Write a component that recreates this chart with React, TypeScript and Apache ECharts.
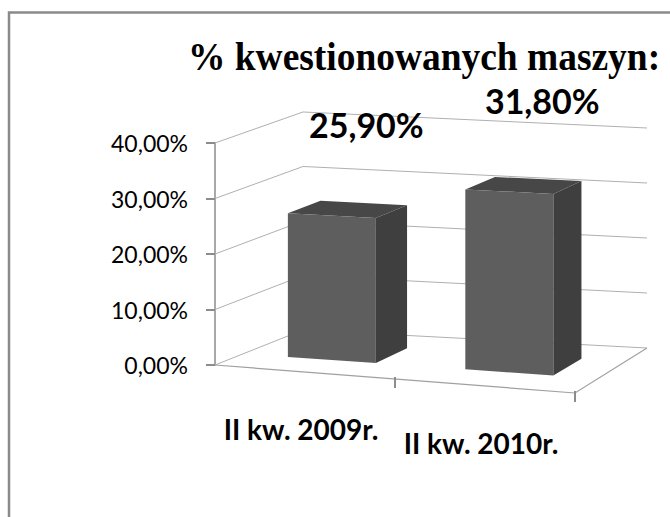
import React, { useEffect, useRef } from 'react';
import * as echarts from 'echarts';

const chartTitle = '% kwestionowanych maszyn:';
const categories = ['II kw. 2009r.', 'II kw. 2010r.'];
const values = [0.259, 0.318];
const yTicks = [0, 0.1, 0.2, 0.3, 0.4];

const fmtPct = (v: number) => (v * 100).toFixed(2).replace('.', ',') + '%';

// ---- layout / perspective constants (styles, not data) ----
const GRID = { left: 215, top: 143, width: 360, height: 222 };
const FRONT_DROP = 28;
const DEPTH_L = [88, -35];
const DEPTH_R = [72, -45];
const SC = { fl: 1, fr: 1.054, bl: 0.982, br: 0.991 };
const W0 = 0.32;
const W1 = 0.7;
const BAR_FRAC = 0.496;
const LABEL_OFF = [18.5, -84.5];
const CAT_OFF = [-4, 57];

function project(gx: number, gw: number, gb: number, s: number, w: number, h: number) {
  const flx = gx, fly = gb;
  const frx = gx + gw, fry = gb + FRONT_DROP;
  const blx = flx + DEPTH_L[0], bly = fly + DEPTH_L[1];
  const brx = frx + DEPTH_R[0], bry = fry + DEPTH_R[1];
  const a = (1 - s) * (1 - w), b = s * (1 - w), c = (1 - s) * w, d = s * w;
  const x = a * flx + b * frx + c * blx + d * brx;
  const y0 = a * fly + b * fry + c * bly + d * bry;
  const f = a * SC.fl + b * SC.fr + c * SC.bl + d * SC.br;
  return [x, y0 - h * f];
}

export default function App() {
  const ref = useRef<HTMLDivElement>(null);
  useEffect(() => {
    if (!ref.current) return;
    const chart = echarts.init(ref.current, null, { renderer: 'svg' });
    const option: any = {
      animation: false,
      backgroundColor: '#ffffff',
      grid: { left: GRID.left, top: GRID.top, width: GRID.width, height: GRID.height },
      xAxis: { type: 'category', data: categories, show: false },
      yAxis: {
        type: 'value',
        min: 0,
        max: 0.4,
        interval: 0.1,
        axisLine: { show: true, lineStyle: { color: '#8c8c8c', width: 1.5 } },
        axisTick: { show: true, length: 9, lineStyle: { color: '#8c8c8c', width: 2 } },
        splitLine: { show: false },
        axisLabel: {
          margin: 27,
          color: '#000',
          fontFamily: 'Lato',
          fontSize: 23,
          formatter: (v: number) => fmtPct(v),
        },
      },
      graphic: [
        {
          type: 'rect',
          silent: true,
          shape: { x: 9, y: 12.5, width: 720, height: 620 },
          style: { fill: 'none', stroke: '#8a8a8a', lineWidth: 2.5 },
        },
        {
          type: 'text',
          x: 188,
          y: 56,
          scaleX: 0.936,
          style: {
            text: chartTitle,
            fontFamily: '"Liberation Serif", "Times New Roman", serif',
            fontWeight: 'bold',
            fontSize: 40,
            fill: '#000',
            align: 'left',
            verticalAlign: 'middle',
          },
        },
      ],
      series: [
        {
          type: 'custom',
          name: 'walls',
          silent: true,
          z: 1,
          data: yTicks.map((v) => [0, v]),
          renderItem: (params: any, api: any) => {
            const cs = params.coordSys;
            const gb = cs.y + cs.height;
            const h = gb - api.coord([0, api.value(1)])[1];
            const P = (s: number, w: number, hh: number) => project(cs.x, cs.width, gb, s, w, hh);
            return {
              type: 'polyline',
              shape: { points: [P(0, 0, h), P(0, 1, h), P(1, 1, h)] },
              style: { stroke: '#b0b0b0', lineWidth: 1, fill: 'none' },
            };
          },
        },
        {
          type: 'custom',
          name: 'floor',
          silent: true,
          z: 2,
          data: categories.map((c, i) => [i, 0]),
          renderItem: (params: any, api: any) => {
            const cs = params.coordSys;
            const gb = cs.y + cs.height;
            const i = api.value(0);
            const c = api.coord([i, 0]);
            const band = api.size([1, 0])[0];
            const P = (s: number, w: number, hh: number) => project(cs.x, cs.width, gb, s, w, hh);
            const sC = (c[0] - cs.x) / cs.width;
            const sB = (c[0] + band / 2 - cs.x) / cs.width;
            const children: any[] = [];
            if (i === 0) {
              children.push({
                type: 'polyline',
                shape: { points: [P(0, 0, 0), P(1, 0, 0), P(1, 1, 0)] },
                style: { stroke: '#a0a0a0', lineWidth: 1.2, fill: 'none' },
              });
            }
            const t = P(sB, 0, 0);
            children.push({
              type: 'line',
              shape: { x1: t[0], y1: t[1] - 2, x2: t[0], y2: t[1] + 9 },
              style: { stroke: '#8c8c8c', lineWidth: 2 },
            });
            const lp = P(sC, 0, 0);
            children.push({
              type: 'text',
              style: {
                text: categories[i],
                x: lp[0] + CAT_OFF[0],
                y: lp[1] + CAT_OFF[1],
                fontFamily: 'Lato',
                fontWeight: 'bold',
                fontSize: 28,
                fill: '#000',
                align: 'center',
                verticalAlign: 'middle',
              },
            });
            return { type: 'group', children };
          },
        },
        {
          type: 'custom',
          name: 'bars',
          z: 3,
          data: values.map((v, i) => [i, v]),
          renderItem: (params: any, api: any) => {
            const cs = params.coordSys;
            const gb = cs.y + cs.height;
            const i = api.value(0);
            const val = api.value(1);
            const c = api.coord([i, 0]);
            const tp = api.coord([i, val]);
            const band = api.size([1, 0])[0];
            const h = c[1] - tp[1];
            const P = (s: number, w: number, hh: number) => project(cs.x, cs.width, gb, s, w, hh);
            const sC = (c[0] - cs.x) / cs.width;
            const half = (band * BAR_FRAC) / 2 / cs.width;
            const sL = sC - half;
            const sR = sC + half;
            const lp = P(sC, (W0 + W1) / 2, h);
            return {
              type: 'group',
              children: [
                {
                  type: 'polygon',
                  shape: { points: [P(sR, W0, 0), P(sR, W1, 0), P(sR, W1, h), P(sR, W0, h)] },
                  style: { fill: '#3f3f3f' },
                },
                {
                  type: 'polygon',
                  shape: { points: [P(sL, W0, h), P(sR, W0, h), P(sR, W1, h), P(sL, W1, h)] },
                  style: { fill: '#474747' },
                },
                {
                  type: 'polygon',
                  shape: { points: [P(sL, W0, 0), P(sR, W0, 0), P(sR, W0, h), P(sL, W0, h)] },
                  style: { fill: '#5e5e5e' },
                },
                {
                  type: 'text',
                  style: {
                    text: fmtPct(val),
                    x: lp[0] + LABEL_OFF[0],
                    y: lp[1] + LABEL_OFF[1],
                    fontFamily: 'Lato',
                    fontWeight: 'bold',
                    fontSize: 34,
                    fill: '#000',
                    align: 'center',
                    verticalAlign: 'middle',
                  },
                },
              ],
            };
          },
        },
      ],
    };
    chart.setOption(option);
    return () => chart.dispose();
  }, []);
  return (
    <div
      ref={ref}
      style={{ position: 'fixed', left: 0, top: 0, width: 670, height: 517, background: '#fff' }}
    />
  );
}
